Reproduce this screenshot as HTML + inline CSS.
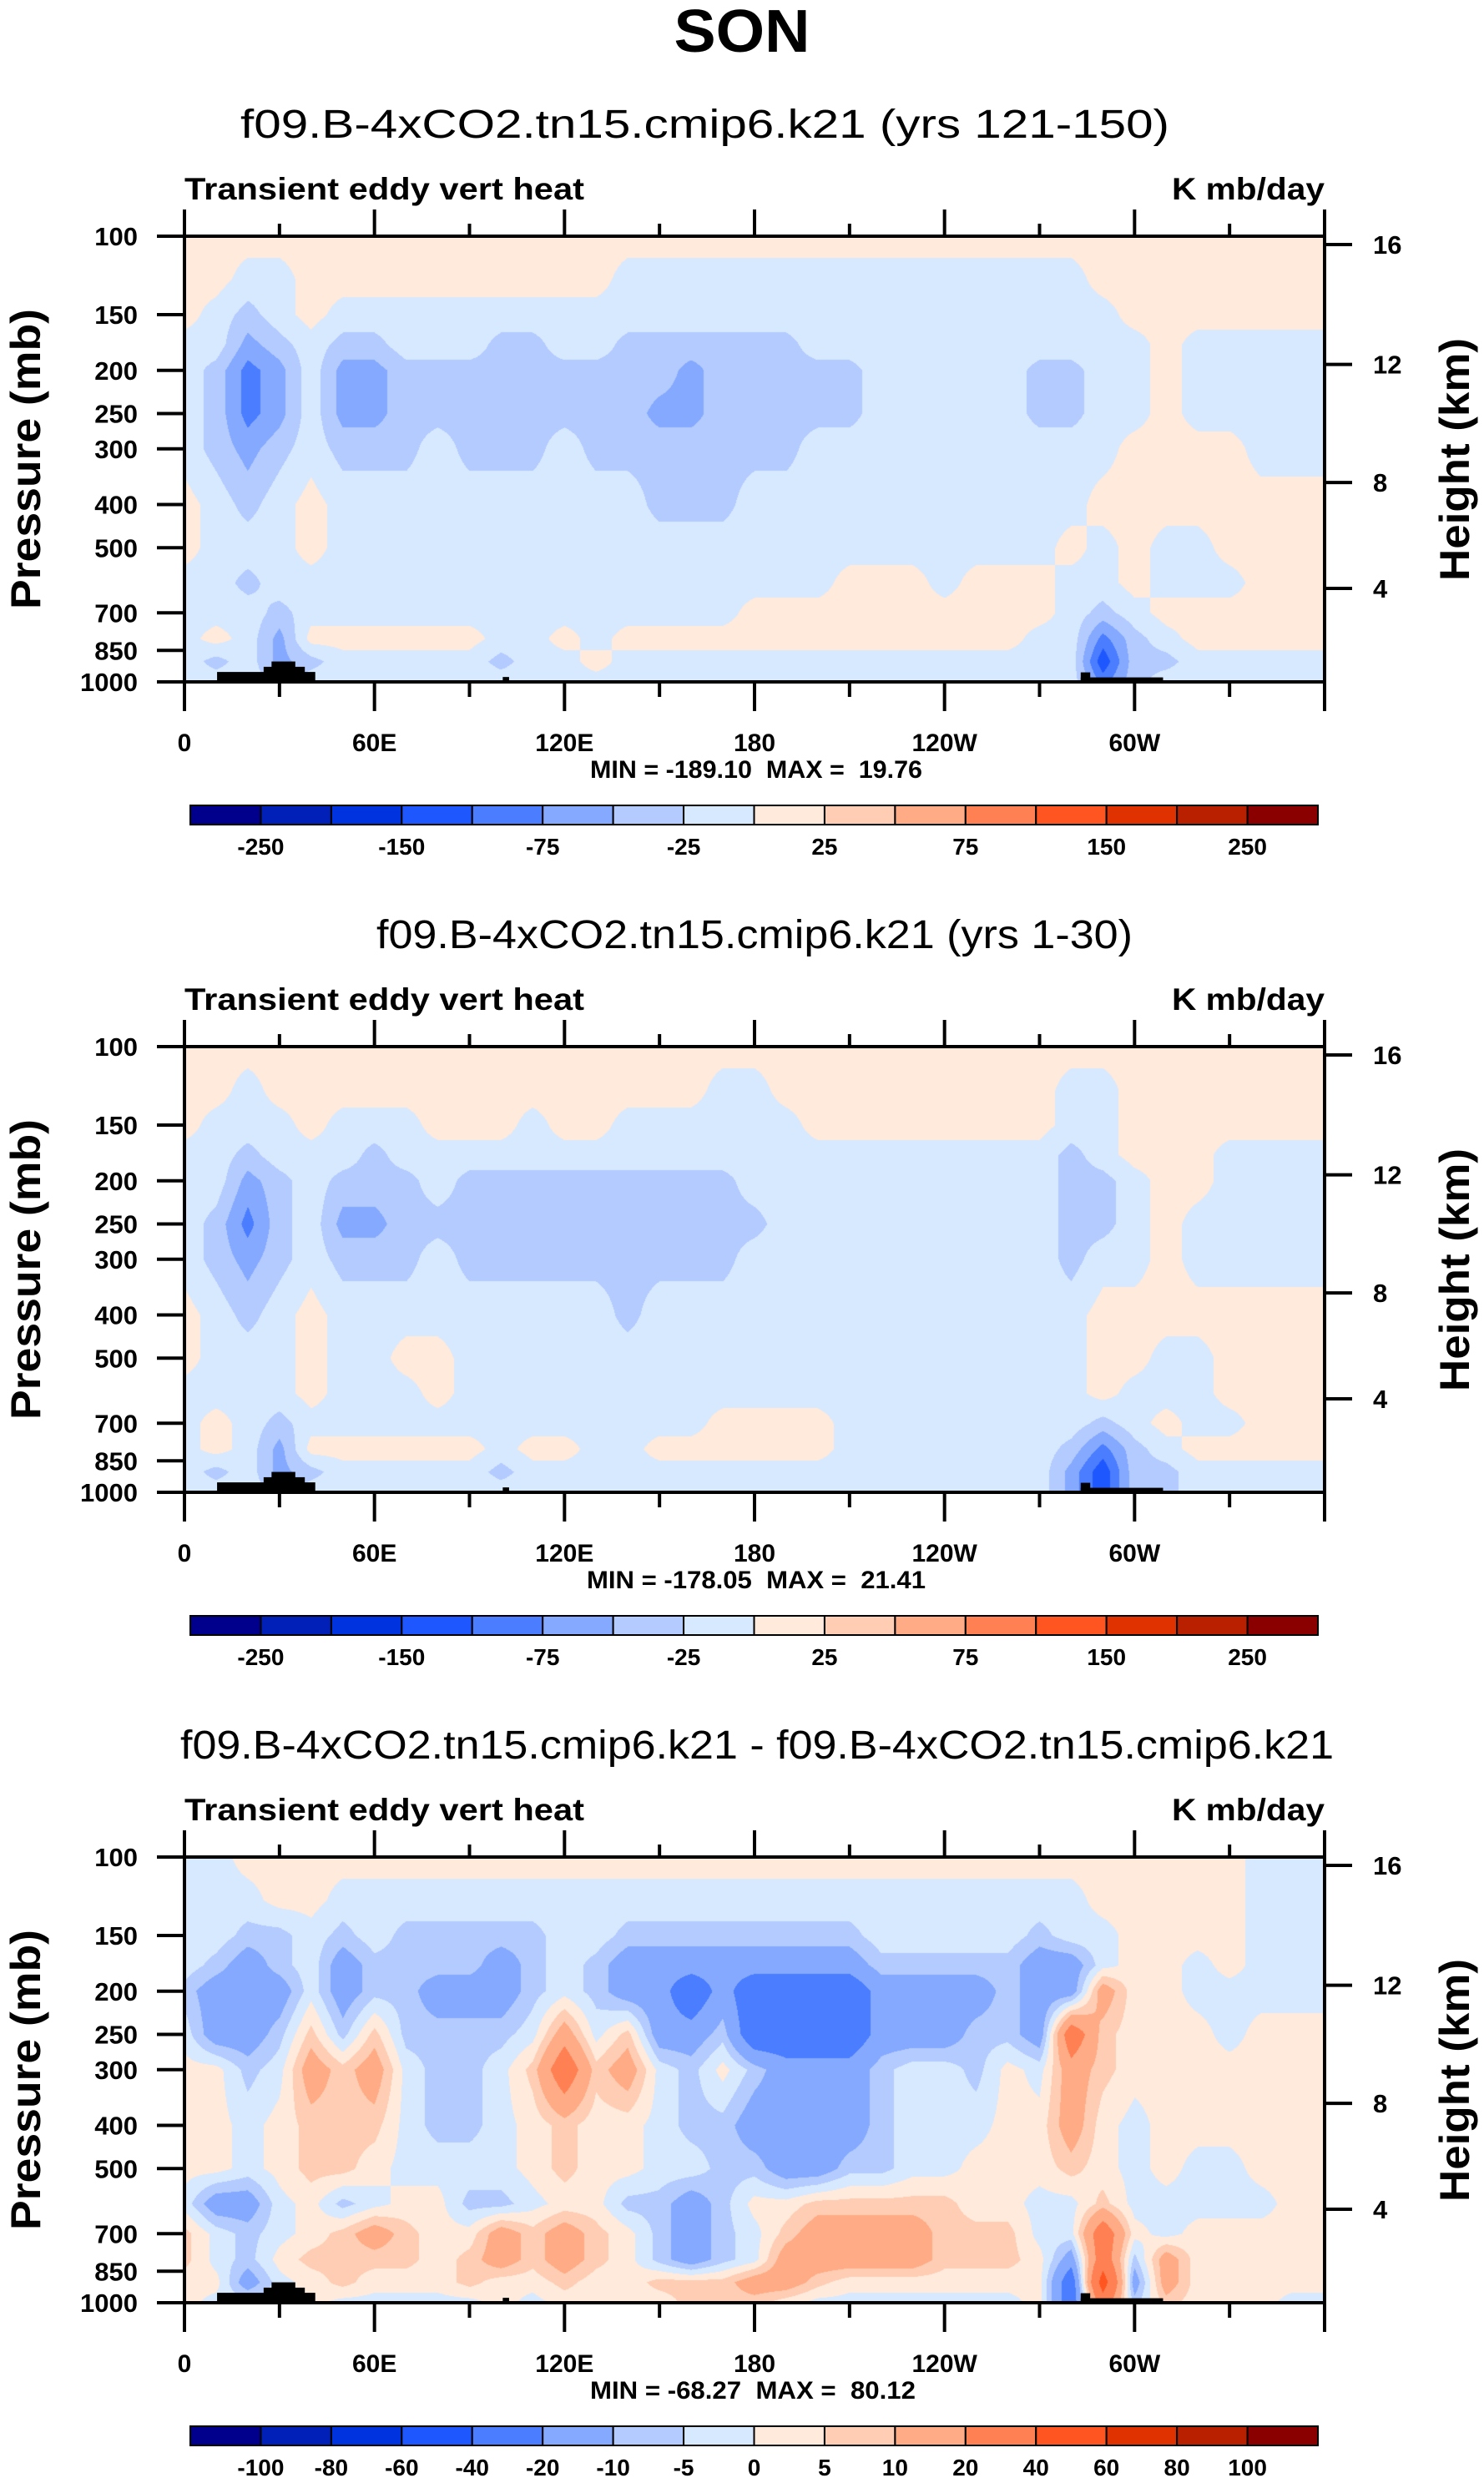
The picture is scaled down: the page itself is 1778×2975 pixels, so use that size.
<!DOCTYPE html>
<html><head><meta charset="utf-8"><title>SON Transient eddy vert heat</title>
<style>
html,body{margin:0;padding:0;background:#fff;}
#wrap{position:relative;width:1778px;height:2975px;overflow:hidden;background:#fff;}
canvas{position:absolute;}
#svg{position:absolute;left:0;top:0;}
text{font-family:"Liberation Sans",Arial,sans-serif;fill:#000;white-space:pre;}
</style></head>
<body>
<div id="wrap">
<canvas id="c0" width="1366" height="534" style="left:221px;top:283px"></canvas>
<canvas id="c1" width="1366" height="534" style="left:221px;top:1254px"></canvas>
<canvas id="c2" width="1366" height="534" style="left:221px;top:2225px"></canvas>
<svg id="svg" width="1778" height="2975" xmlns="http://www.w3.org/2000/svg"></svg>
</div>
<script>
// ---- data ----
const lons = [0,10,20,30,40,50,60,70,80,90,100,110,120,130,140,150,160,170,180,190,200,210,220,230,240,250,260,270,280,290,300,310,320,330,340,350,360];
const levels = [100,125,150,175,200,250,300,400,500,600,700,800,900,1000];
const pTicks = [100,150,200,250,300,400,500,700,850,1000];
const kmTicks = [4,8,12,16];
const kmTickP = [617,357,194,104.4];
const lonTickVals = [0,60,120,180,240,300];
const lonTickLabels = ["0","60E","120E","180","120W","60W"];
const cnLevels12 = [-250,-200,-150,-100,-75,-50,-25,0,25,50,75,100,150,200,250];
const cnLevels3 = [-100,-80,-60,-40,-20,-10,-5,0,5,10,20,40,60,80,100];
const fillColors = ['#00008c','#0020b8','#0033e0','#1f57ff','#4a7dff','#84a9ff','#b3cbff','#d7e9ff','#ffeadb','#ffcdb3','#ffab85','#ff8052','#ff5521','#e03200','#b82000','#8a0000'];

const field1 = [
[10,10,10,10,10,10,10,10,10,10,10,10,10,10,10,10,10,10,10,10,10,10,10,10,10,10,10,10,10,10,10,10,10,10,10,10,10],
[10,10,-10,-10,10,10,10,10,10,10,10,10,10,10,-10,-10,-10,-10,-10,-10,-10,-10,-10,-10,-10,-10,-10,-10,-10,10,10,10,10,10,10,10,10],
[10,-10,-35,-10,10,-10,-10,-10,-10,-10,-10,-10,-10,-10,-10,-10,-10,-10,-10,-10,-10,-10,-10,-10,-10,-10,-10,-10,-10,-10,10,10,10,10,10,10,10],
[-10,-10,-60,-35,-10,-35,-35,-10,-10,-10,-35,-35,-10,-10,-35,-35,-35,-35,-35,-35,-10,-10,-10,-10,-10,-10,-10,-10,-10,-10,-10,10,-10,-10,-10,-10,-10],
[-10,-35,-85,-60,-10,-60,-60,-35,-35,-35,-35,-35,-35,-35,-35,-35,-60,-35,-35,-35,-35,-35,-10,-10,-10,-10,-10,-35,-35,-10,-10,10,-10,-10,-10,-10,-10],
[-10,-35,-85,-60,-10,-60,-60,-35,-35,-35,-35,-35,-35,-35,-35,-60,-60,-35,-35,-35,-35,-35,-10,-10,-10,-10,-10,-35,-35,-10,-10,10,-10,-10,-10,-10,-10],
[-10,-35,-60,-35,-10,-35,-35,-35,-10,-35,-35,-35,-10,-35,-35,-35,-35,-35,-35,-35,-10,-10,-10,-10,-10,-10,-10,-10,-10,-10,10,10,10,10,-10,-10,-10],
[10,-10,-35,-10,10,-10,-10,-10,-10,-10,-10,-10,-10,-10,-10,-35,-35,-35,-10,-10,-10,-10,-10,-10,-10,-10,-10,-10,-10,10,10,10,10,10,10,10,10],
[10,-10,-10,-10,10,-10,-10,-10,-10,-10,-10,-10,-10,-10,-10,-10,-10,-10,-10,-10,-10,-10,-10,-10,-10,-10,-10,-10,10,-10,10,-10,-10,10,10,10,10],
[-10,-10,-35,-10,-10,-10,-10,-10,-10,-10,-10,-10,-10,-10,-10,-10,-10,-10,-10,-10,-10,10,10,10,-10,10,10,10,-10,-10,10,-10,-10,-10,10,10,10],
[-10,-10,-10,-35,-10,-10,-10,-10,-10,-10,-10,-10,-10,-10,-10,-10,-10,-10,10,10,10,10,10,10,10,10,10,10,-10,-35,-10,10,10,10,10,10,10],
[-10,10,-10,-60,10,10,10,10,10,10,-10,-10,10,-10,10,10,10,10,10,10,10,10,10,10,10,10,10,-10,-10,-85,-35,-10,10,10,10,10,10],
[-10,-35,-10,-60,-35,-10,-10,-10,-10,-10,-35,-10,-10,10,-10,-10,-10,-10,-10,-10,-10,-10,-10,-10,-10,-10,-10,-10,-10,-120,-35,-35,-10,-10,-10,-10,-10],
[-10,-10,-10,-35,-10,-10,-10,-10,-10,-10,-10,-10,-10,-10,-10,-10,-10,-10,-10,-10,-10,-10,-10,-10,-10,-10,-10,-10,-10,-85,-35,-10,-10,-10,-10,-10,-10]
];
const field2 = [
[10,10,10,10,10,10,10,10,10,10,10,10,10,10,10,10,10,10,10,10,10,10,10,10,10,10,10,10,10,10,10,10,10,10,10,10,10],
[10,10,-10,10,10,10,10,10,10,10,10,10,10,10,10,10,10,-10,-10,10,10,10,10,10,10,10,10,10,-10,-10,10,10,10,10,10,10,10],
[10,-10,-10,-10,10,-10,-10,-10,10,10,10,-10,10,10,-10,-10,-10,-10,-10,-10,10,10,10,10,10,10,10,10,-10,-10,10,10,10,10,10,10,10],
[-10,-10,-35,-10,-10,-10,-35,-10,-10,-10,-10,-10,-10,-10,-10,-10,-10,-10,-10,-10,-10,-10,-10,-10,-10,-10,-10,-10,-35,-10,10,10,10,-10,-10,-10,-10],
[-10,-10,-60,-35,-10,-35,-35,-35,-10,-35,-35,-35,-35,-35,-35,-35,-35,-35,-10,-10,-10,-10,-10,-10,-10,-10,-10,-10,-35,-35,-10,10,10,-10,-10,-10,-10],
[-10,-35,-85,-35,-10,-60,-60,-35,-35,-35,-35,-35,-35,-35,-35,-35,-35,-35,-35,-10,-10,-10,-10,-10,-10,-10,-10,-10,-35,-35,-10,10,-10,-10,-10,-10,-10],
[-10,-35,-60,-35,-10,-35,-35,-35,-10,-35,-35,-35,-35,-35,-35,-35,-35,-35,-10,-10,-10,-10,-10,-10,-10,-10,-10,-10,-35,-10,-10,10,-10,-10,-10,-10,-10],
[10,-10,-35,-10,10,-10,-10,-10,-10,-10,-10,-10,-10,-10,-35,-10,-10,-10,-10,-10,-10,-10,-10,-10,-10,-10,-10,-10,-10,10,10,10,10,10,10,10,10],
[10,-10,-10,-10,10,-10,-10,10,10,-10,-10,-10,-10,-10,-10,-10,-10,-10,-10,-10,-10,-10,-10,-10,-10,-10,-10,-10,-10,10,10,-10,-10,10,10,10,10],
[-10,-10,-10,-10,10,-10,-10,-10,10,-10,-10,-10,-10,-10,-10,-10,-10,-10,-10,-10,-10,-10,-10,-10,-10,-10,-10,-10,-10,10,-10,-10,-10,10,10,10,10],
[-10,10,-10,-35,-10,-10,-10,-10,-10,-10,-10,-10,-10,-10,-10,-10,-10,10,10,10,10,-10,-10,-10,-10,-10,-10,-10,-10,-35,-10,10,-10,-10,10,10,10],
[-10,10,-10,-60,10,10,10,10,10,10,-10,10,10,-10,-10,10,10,10,10,10,10,-10,-10,-10,-10,-10,-10,-10,-35,-85,-35,-10,10,10,10,10,10],
[-10,-35,-10,-60,-35,-10,-10,-10,-10,-10,-35,-10,-10,-10,-10,-10,-10,-10,-10,-10,-10,-10,-10,-10,-10,-10,-10,-10,-60,-120,-35,-35,-10,-10,-10,-10,-10],
[-10,-10,-10,-35,-10,-10,-10,-10,-10,-10,-10,-10,-10,-10,-10,-10,-10,-10,-10,-10,-10,-10,-10,-10,-10,-10,-10,-10,-60,-120,-35,-35,-10,-10,-10,-10,-10]
];
const field3 = [
[-2,-2,2,2,2,2,2,2,2,2,2,2,2,2,2,2,2,2,2,2,2,2,2,2,2,2,2,2,2,2,2,2,2,2,-2,-2,-2],
[-2,-2,-2,2,2,-2,-2,-2,-2,-2,-2,-2,-2,-2,-2,-2,-2,-2,-2,-2,-2,-2,-2,-2,-2,-2,-2,-2,-2,2,2,2,2,2,-2,-2,-2],
[-2,-2,-7,-7,-2,-7,-2,-7,-7,-7,-7,-7,-2,-2,-7,-7,-7,-7,-7,-7,-7,-7,-2,-2,-2,-2,-2,-7,-2,-2,2,2,2,2,-2,-2,-2],
[-2,-7,-15,-7,-2,-15,-7,-7,-7,-7,-15,-7,-2,-7,-15,-15,-15,-15,-15,-15,-15,-15,-7,-7,-7,-7,-7,-15,-15,-2,2,2,-2,2,-2,-2,-2],
[-7,-15,-15,-15,-2,-15,-7,-7,-15,-15,-15,-7,-2,-7,-15,-15,-30,-15,-30,-30,-30,-30,-15,-15,-15,-15,-7,-15,-15,15,2,2,-2,-2,-2,-2,-2],
[-2,-15,-15,-7,7,-7,7,-7,-7,-7,-7,-2,15,-2,7,-15,-15,-7,-30,-30,-30,-30,-15,-15,-15,-7,-7,-15,30,7,2,2,2,-2,2,2,2],
[2,2,-7,-2,15,7,15,-2,-7,-7,-2,7,30,7,15,-2,-7,2,-7,-15,-15,-15,-7,-2,-2,-7,2,-2,15,7,2,2,2,2,2,2,2],
[2,2,-2,2,7,7,7,-2,-7,-7,-2,2,7,2,2,-2,-7,-7,-15,-15,-15,-15,-7,-2,-2,-2,2,2,15,2,-2,2,2,2,2,2,2],
[2,2,-2,2,7,7,2,-2,-2,-2,-2,2,7,2,2,-2,-2,-7,-7,-15,-15,-7,-7,-2,-2,2,2,2,7,2,-2,2,-2,-2,2,2,2],
[-2,-15,-15,-2,2,-7,-2,2,2,-7,-7,-2,2,2,-7,-7,-15,-7,2,2,7,7,7,7,7,2,2,-2,-2,7,-2,-2,-2,-2,-2,2,2],
[7,-2,-7,-2,2,7,15,7,2,2,15,7,15,7,2,-7,-15,-7,-2,7,15,15,15,15,7,7,7,-2,-2,30,2,-2,2,2,2,2,2],
[7,-2,-7,2,7,7,7,7,2,7,15,7,15,7,2,-7,-15,-7,-2,15,15,15,15,15,7,7,7,2,-15,30,-7,15,2,2,2,2,2],
[2,2,-15,-2,2,7,2,2,2,7,2,2,7,2,2,7,7,7,15,15,7,2,2,2,2,2,2,2,-30,50,-15,15,2,2,2,2,2],
[2,-2,-2,-2,2,-2,-2,-2,-2,-2,2,-2,2,2,2,2,7,7,7,2,-2,-2,-2,-2,-2,-2,-2,2,-30,30,-7,7,2,2,2,-2,-2]
];
// topography blocks: [lonStart, lonEnd, surface pressure]
const topoLon0 = [10.3,25,27.5,100.5,283,283];
const topoLon1 = [41.3,38,35,102.5,309,286];
const topoP = [950,925,900,975,977,952];

const subtitles = ["f09.B-4xCO2.tn15.cmip6.k21 (yrs 121-150)","f09.B-4xCO2.tn15.cmip6.k21 (yrs 1-30)","f09.B-4xCO2.tn15.cmip6.k21 - f09.B-4xCO2.tn15.cmip6.k21"];
const minmaxTexts = ["MIN = -189.10  MAX =  19.76","MIN = -178.05  MAX =  21.41","MIN = -68.27  MAX =  80.12"];

// ---- layout ----
const X0=221, W=1366, H=534;
const panelTops=[283,1254,2225];
const subX=[[288,1401],[451,1357],[216,1598]];
const mmX=[[707,1105],[703,1109],[707,1097]];
const CB0=228, CB1=1579;
const NS='http://www.w3.org/2000/svg';
const svg=document.getElementById('svg');
function xOf(lon){return X0+lon/360*W;}
function yFrac(p){return Math.log10(p/100);}
function yOf(p,T){return T+yFrac(p)*H;}
function mk(tag,attrs,parent){const e=document.createElementNS(NS,tag);for(const k in attrs)e.setAttribute(k,attrs[k]);(parent||svg).appendChild(e);return e;}
function txt(x,y,s,size,weight,anchor,name,len,rot){
  const e=mk('text',{x:x,y:y,'font-size':size,'font-weight':weight,'text-anchor':anchor});
  
  
  if(len){e.setAttribute('textLength',len);e.setAttribute('lengthAdjust','spacingAndGlyphs');}
  if(rot)e.setAttribute('transform','rotate(-90 '+x+' '+y+')');
  e.textContent=s;return e;
}
function classify(v,lv){let i=0;while(i<lv.length&&v>=lv[i])i++;return i;}
function hexRGB(h){return [parseInt(h.substr(1,2),16),parseInt(h.substr(3,2),16),parseInt(h.substr(5,2),16)];}
const rgb=fillColors.map(hexRGB);

function drawField(canvasId,field,lv){
  const cv=document.getElementById(canvasId);const ctx=cv.getContext('2d');
  const img=ctx.createImageData(W,H);const d=img.data;
  const rowF=levels.map(yFrac);
  for(let y=0;y<H;y++){
    const f=(y+0.5)/H;let k=0;while(k<levels.length-2&&f>rowF[k+1])k++;
    const t=Math.min(1,Math.max(0,(f-rowF[k])/(rowF[k+1]-rowF[k])));
    for(let x=0;x<W;x++){
      const lon=(x+0.5)/W*360;let i=0;while(i<lons.length-2&&lon>lons[i+1])i++;
      const s=(lon-lons[i])/(lons[i+1]-lons[i]);
      const v=(1-t)*((1-s)*field[k][i]+s*field[k][i+1])+t*((1-s)*field[k+1][i]+s*field[k+1][i+1]);
      const c=rgb[classify(v,lv)];const o=(y*W+x)*4;
      d[o]=c[0];d[o+1]=c[1];d[o+2]=c[2];d[o+3]=255;
    }
  }
  ctx.putImageData(img,0,0);
}

// main title
txt(889,62,"SON",72,'bold','middle','main-title',163);

const fields=[field1,field2,field3];
for(let pi=0;pi<3;pi++){
  const T=panelTops[pi], B=T+H;
  const lv = pi<2?cnLevels12:cnLevels3;
  drawField('c'+pi,fields[pi],lv);
  // topography
  for(let j=0;j<topoP.length;j++){
    const r=mk('rect',{x:xOf(topoLon0[j]),y:yOf(topoP[j],T),width:xOf(topoLon1[j])-xOf(topoLon0[j]),height:B-yOf(topoP[j],T),fill:'#000'});
    
    
  }
  // frame
  const fr=mk('rect',{x:X0,y:T,width:W,height:H,fill:'none',stroke:'#000','stroke-width':4});
  
  
  // titles
  txt((subX[pi][0]+subX[pi][1])/2,T-118,subtitles[pi],48,'normal','middle','panel-title',subX[pi][1]-subX[pi][0]);
  txt(X0,T-44,"Transient eddy vert heat",37,'bold','start','variable-label',479);
  txt(1587,T-44,"K mb/day",37,'bold','end','units-label',183);
  // lon ticks
  for(let lon=0;lon<=360;lon+=30){
    const major=lon%60===0;const x=xOf(lon);
    const t1=mk('line',{x1:x,x2:x,y1:T,y2:T-(major?32:15),stroke:'#000','stroke-width':4});
    
    
    const t2=mk('line',{x1:x,x2:x,y1:B,y2:B+(major?35:18),stroke:'#000','stroke-width':4});
    
    
  }
  for(let j=0;j<lonTickVals.length;j++){
    txt(xOf(lonTickVals[j]),B+83,lonTickLabels[j],30,'bold','middle','x-tick-label');
  }
  // pressure ticks
  for(const p of pTicks){
    const y=yOf(p,T);
    const l=mk('line',{x1:X0-33,x2:X0,y1:y,y2:y,stroke:'#000','stroke-width':4});
    
    
    txt(165,y+11,String(p),31,'bold','end','y-tick-label');
  }
  // height ticks
  for(let j=0;j<kmTicks.length;j++){
    const y=yOf(kmTickP[j],T);
    const l=mk('line',{x1:X0+W,x2:X0+W+33,y1:y,y2:y,stroke:'#000','stroke-width':4});
    
    
    txt(1645,y+11,String(kmTicks[j]),31,'bold','start','right-y-tick-label');
  }
  txt(48,T+267+180,"Pressure (mb)",50,'bold','start','y-axis-title',360,true);
  txt(1760,T+267+146,"Height (km)",50,'bold','start','right-y-axis-title',291,true);
  txt((mmX[pi][0]+mmX[pi][1])/2,B+115,minmaxTexts[pi],30,'bold','middle','min-max-label',mmX[pi][1]-mmX[pi][0]);
  // colorbar
  const bw=(CB1-CB0)/16;
  for(let j=0;j<16;j++){
    const r=mk('rect',{x:CB0+j*bw,y:B+148,width:bw,height:23,fill:fillColors[j],stroke:'#000','stroke-width':2});
    
    
  }
  for(let j=1;j<=15;j++){
    if(pi<2 && j%2===0) continue;
    txt(CB0+j*bw,B+207,String(lv[j-1]),28,'bold','middle','colorbar-label');
  }
}
</script>
</body></html>
